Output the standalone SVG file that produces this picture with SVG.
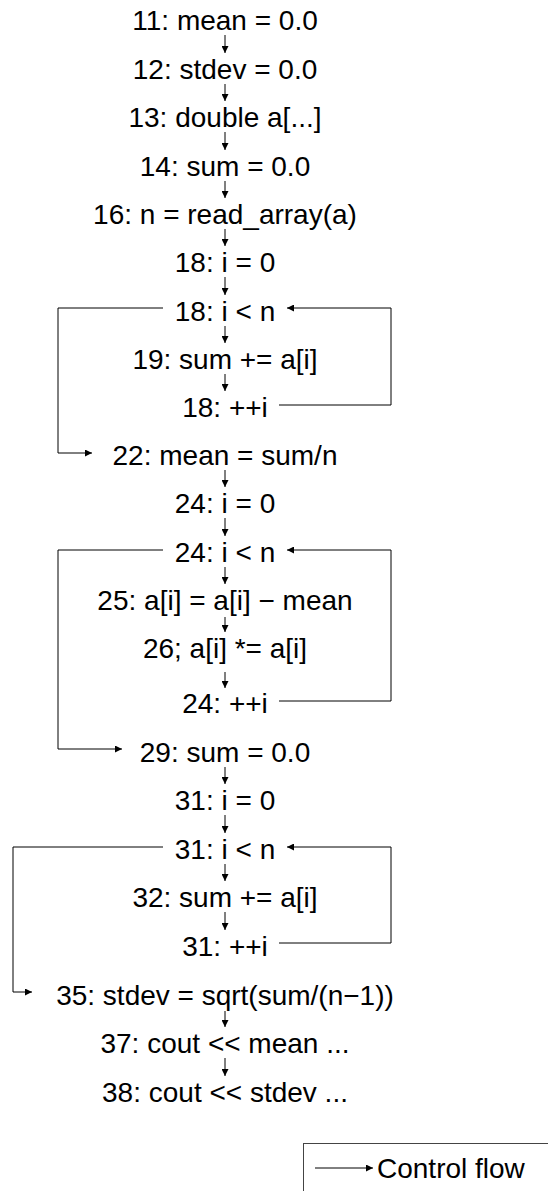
<svg xmlns="http://www.w3.org/2000/svg" width="548" height="1191" viewBox="0 0 548 1191">
<style>
text { font-family: "Liberation Sans", Arial, Helvetica, sans-serif; font-size: 28px; fill: #000; }
.n text { text-anchor: middle; }
.e { fill: none; stroke: #000; stroke-width: 1; marker-end: url(#ah); }
</style>
<defs>
<marker id="ah" viewBox="0 0 10 10" refX="10" refY="5" markerWidth="8" markerHeight="7" markerUnits="userSpaceOnUse" orient="auto">
<path d="M0,0 L10,5 L0,10 z" fill="#000"/>
</marker>
</defs>
<rect width="548" height="1191" fill="#fff"/>
<g class="n">
<g id="n11"><text x="225" y="30">11: mean = 0.0</text></g>
<g id="n12"><text x="225" y="79">12: stdev = 0.0</text></g>
<g id="n13"><text x="225" y="127">13: double a[...]</text></g>
<g id="n14"><text x="225" y="176">14: sum = 0.0</text></g>
<g id="n16"><text x="225" y="224">16: n = read_array(a)</text></g>
<g id="n18a"><text x="225" y="272">18: i = 0</text></g>
<g id="n18b"><text x="225" y="321">18: i &lt; n</text></g>
<g id="n19"><text x="225" y="369">19: sum += a[i]</text></g>
<g id="n18c"><text x="225" y="417">18: ++i</text></g>
<g id="n22"><text x="225" y="465">22: mean = sum/n</text></g>
<g id="n24a"><text x="225" y="513">24: i = 0</text></g>
<g id="n24b"><text x="225" y="562">24: i &lt; n</text></g>
<g id="n25"><text x="225" y="610">25: a[i] = a[i] − mean</text></g>
<g id="n26"><text x="225" y="658">26; a[i] *= a[i]</text></g>
<g id="n24c"><text x="225" y="713">24: ++i</text></g>
<g id="n29"><text x="225" y="762">29: sum = 0.0</text></g>
<g id="n31a"><text x="225" y="810">31: i = 0</text></g>
<g id="n31b"><text x="225" y="859">31: i &lt; n</text></g>
<g id="n32"><text x="225" y="907">32: sum += a[i]</text></g>
<g id="n31c"><text x="225" y="956">31: ++i</text></g>
<g id="n35"><text x="225" y="1005">35: stdev = sqrt(sum/(n−1))</text></g>
<g id="n37"><text x="225" y="1053">37: cout &lt;&lt; mean ...</text></g>
<g id="n38"><text x="225" y="1102">38: cout &lt;&lt; stdev ...</text></g>
</g>
<g id="edges">
<path class="e" d="M225,35 V53"/>
<path class="e" d="M225,84 V101"/>
<path class="e" d="M225,132 V150"/>
<path class="e" d="M225,181 V198"/>
<path class="e" d="M225,229 V246"/>
<path class="e" d="M225,277 V295"/>
<path class="e" d="M225,326 V343"/>
<path class="e" d="M225,374 V391"/>
<path class="e" d="M225,470 V487"/>
<path class="e" d="M225,518 V536"/>
<path class="e" d="M225,567 V584"/>
<path class="e" d="M225,617 V632"/>
<path class="e" d="M225,672 V688"/>
<path class="e" d="M225,767 V784"/>
<path class="e" d="M225,815 V833"/>
<path class="e" d="M225,864 V881"/>
<path class="e" d="M225,912 V930"/>
<path class="e" d="M225,1011 V1027"/>
<path class="e" d="M225,1058 V1076"/>
<path class="e" d="M163,308 H58 V453 H92"/>
<path class="e" d="M279,405 H391 V308 H287"/>
<path class="e" d="M163,550 H58 V749 H122"/>
<path class="e" d="M279,701 H391 V550 H287"/>
<path class="e" d="M163,847 H13 V992 H32"/>
<path class="e" d="M279,943 H391 V847 H287"/>
</g>
<g id="legend">
<rect x="303.5" y="1143.5" width="260" height="60" fill="none" stroke="#444" stroke-width="1"/>
<path class="e" d="M315,1168 H373"/>
<text x="377" y="1178">Control flow</text>
</g>
</svg>
